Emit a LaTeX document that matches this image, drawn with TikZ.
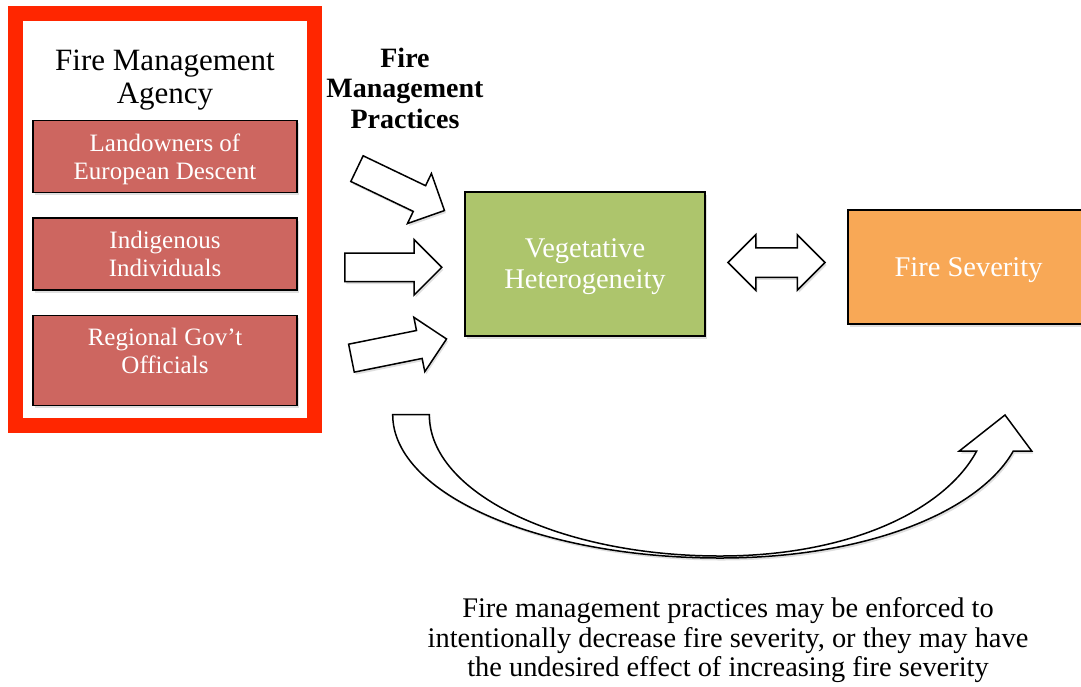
\documentclass[tikz,border=0pt]{standalone}
\usepackage{fontspec}
\setmainfont{Liberation Serif}
\usetikzlibrary{positioning, shapes.arrows, shadows, calc}
\definecolor{frameRed}{RGB}{255, 38, 0}
\definecolor{agentRed}{RGB}{205, 102, 96}
\definecolor{vegGreen}{RGB}{173, 197, 108}
\definecolor{sevOrange}{RGB}{248, 168, 86}

\begin{document}
\begin{tikzpicture}[
    x=1pt, y=-1pt,
    shade/.style={drop shadow={shadow xshift=1.5pt, shadow yshift=-2.5pt, opacity=0.25}},
    agent/.style={rectangle, draw=black, line width=1.5pt, fill=agentRed, minimum width=264pt, minimum height=72pt, text=white, align=center, text depth=0pt, font=\fontsize{25}{28}\selectfont, shade},
    agenttext/.style={text=white, align=center, text depth=0pt, font=\fontsize{25}{28}\selectfont},
    outcome/.style={rectangle, draw=black, line width=1.5pt, text=white, align=center, text depth=0pt, font=\fontsize{28.5}{31}\selectfont, shade},
    push/.style={single arrow, draw=black, line width=1.5pt, fill=white, minimum height=97pt, single arrow head extend=13.5pt, inner sep=13.5pt, shade},
    swap/.style={double arrow, draw=black, line width=1.5pt, fill=white, minimum height=97pt, double arrow head extend=13pt, inner sep=14pt, shade}
]
\useasboundingbox (0,0) rectangle (1081,686);
\clip (0,0) rectangle (1081,686);

% Agency frame
\node[draw=frameRed, fill=white, line width=15pt, minimum width=299pt, minimum height=412pt, shade] (agency) at (165,219.5) {};
\node[align=center, text depth=0pt, font=\fontsize{31}{33}\selectfont] (agencytitle) at (165,77) {Fire Management\\Agency};

% Agents
\node[agent] (settlers) at (165,156.5) {Landowners of\\European Descent};
\node[agent, below=24pt of settlers] (indigenous) {Indigenous\\Individuals};
\node[agent, minimum height=90pt, below=24pt of indigenous] (officials) {};
\node[agenttext] (officialstext) at ([yshift=10pt]officials.center) {Regional Gov’t\\Officials};

% Practices
\node[align=center, font=\bfseries\fontsize{28}{30.5}\selectfont] (practices) at (405,88) {Fire\\Management\\Practices};
\node[push, rotate=-25.6, anchor=tail] (pushtop) at (356.3,168.3) {};
\node[push, anchor=tail] (pushmid) at (344,267.3) {};
\node[push, rotate=11.4, anchor=tail] (pushlow) at (350.7,358.3) {};

% Outcomes
\node[outcome, fill=vegGreen, minimum width=240pt, minimum height=144pt] (veg) at (585,264) {Vegetative\\Heterogeneity};
\node[outcome, fill=sevOrange, minimum width=241pt, minimum height=114pt] (severity) at (968.5,267) {Fire Severity};
\node[swap] (feedback) at ($(veg.east)!0.5!(severity.west)+(0,-3)$) {};

% Direct effect
\draw[line width=1.5pt, fill=white, shade] (392.7,414.7) -- (429.3,414.7)
    .. controls (429.3,492.8) and (559.5,556) .. (720,556)
    .. controls (850,556) and (945,510) .. (976.7,451)
    -- (959.3,451) -- (1005,415) -- (1031.7,451) -- (1013.3,451)
    .. controls (980,510) and (870,558) .. (720,558)
    .. controls (539.5,558) and (392.7,494) .. cycle;
\node[align=center, font=\fontsize{28.4}{29.5}\selectfont] (note) at (728,640.5) {Fire management practices may be enforced to\\intentionally decrease fire severity, or they may have\\the undesired effect of increasing fire severity};

\end{tikzpicture}
\end{document}
